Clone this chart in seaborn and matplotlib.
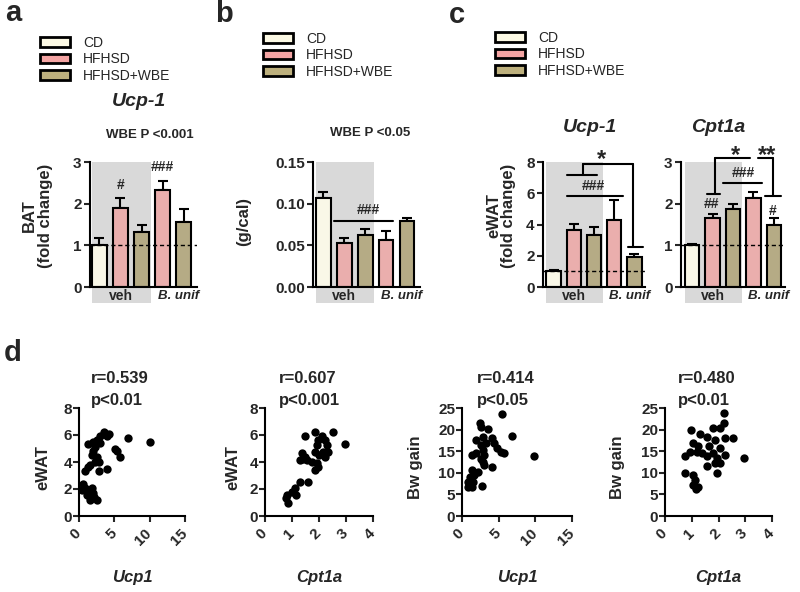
import numpy as np
import pandas as pd
import matplotlib
matplotlib.use('Agg')
import matplotlib.pyplot as plt
import matplotlib.transforms as mtransforms
from matplotlib.patches import Patch, Rectangle
import seaborn as sns

# groups and bars (veh: 3 bars, B. unif: 2 bars)
groups = ['CD', 'HFHSD', 'HFHSD+WBE']
colors = ['#fcf9e4', '#f4a4a3', '#bdb07d']
bar_ids = ['CD veh', 'HFHSD veh', 'HFHSD+WBE veh', 'HFHSD B. unif', 'HFHSD+WBE B. unif']
bar_groups = ['CD', 'HFHSD', 'HFHSD+WBE', 'HFHSD', 'HFHSD+WBE']

# a: BAT Ucp-1
bat_ucp1 = [1.00, 1.90, 1.32, 2.34, 1.56]
bat_ucp1_sem = [0.18, 0.24, 0.18, 0.20, 0.32]
# b: g/cal
gcal = [0.1066, 0.0523, 0.0623, 0.0570, 0.0790]
gcal_sem = [0.008, 0.006, 0.007, 0.010, 0.004]
# c: eWAT Ucp-1 / Cpt1a
ewat_ucp1 = [1.00, 3.62, 3.35, 4.30, 1.92]
ewat_ucp1_sem = [0.10, 0.43, 0.49, 1.24, 0.21]
ewat_cpt1a = [1.00, 1.66, 1.87, 2.14, 1.50]
ewat_cpt1a_sem = [0.04, 0.10, 0.12, 0.14, 0.16]

# d: correlations
d1_ucp1 = [3.5, 4.2, 4.0, 3.0, 2.5, 2.0, 1.3, 7.0, 10.0, 5.1, 5.4, 5.8, 2.0, 1.8, 2.5, 2.3, 2.8,
           1.6, 4.0, 2.8, 0.9, 1.3, 0.6, 0.9, 1.3, 1.8, 0.4, 2.0, 1.6, 2.5, 2.1, 1.1, 3.0, 2.3]
d1_ewat = [6.25, 6.1, 5.9, 5.9, 5.6, 5.5, 5.3, 5.8, 5.5, 5.0, 4.8, 4.4, 4.8, 4.5, 4.4, 4.0, 4.0,
           3.8, 3.5, 3.3, 3.3, 3.65, 2.4, 2.05, 1.9, 2.05, 1.9, 1.7, 1.2, 1.2, 1.4, 1.55, 5.4, 5.1]
d2_cpt1a = [1.85, 2.53, 1.48, 2.1, 2.22, 1.98, 2.96, 1.91, 2.28, 1.85, 2.16, 2.22, 2.0, 1.48, 1.36, 1.42,
            1.54, 1.73, 1.91, 1.85, 1.98, 1.3, 1.6, 1.3, 1.11, 0.99, 0.8, 1.15, 0.86, 0.77, 2.35]
d2_ewat = [6.25, 6.25, 5.9, 5.9, 5.6, 5.6, 5.35, 5.25, 5.25, 4.75, 4.75, 4.4, 4.5, 4.4, 4.65, 4.25,
           4.15, 4.0, 3.9, 3.4, 3.65, 4.15, 2.55, 2.55, 2.05, 1.8, 1.55, 1.55, 1.0, 1.3, 4.75]
d3_ucp1 = [5.5, 2.4, 2.65, 3.6, 6.8, 1.95, 2.8, 4.05, 3.3, 4.4, 2.65, 4.8, 5.3, 5.7, 9.8, 2.8, 1.95,
           1.4, 3.05, 2.65, 2.8, 3.05, 4.15, 1.3, 2.15, 1.7, 1.05, 0.85, 1.05, 2.75, 0.85, 1.3, 1.5]
d3_bw = [23.6, 21.5, 20.7, 20.1, 18.5, 17.6, 18.4, 18.0, 16.8, 16.8, 16.4, 15.7, 14.9, 14.5, 14.0, 15.3, 14.5,
         14.1, 14.1, 13.3, 12.6, 11.8, 11.4, 10.6, 10.3, 9.5, 9.1, 7.9, 7.2, 6.9, 6.6, 6.8, 7.9]
d4_cpt1a = [2.19, 2.19, 0.96, 1.81, 2.06, 1.31, 1.56, 2.56, 2.25, 1.88, 1.06, 1.25, 1.63, 2.06, 0.94, 1.19, 1.38,
            1.81, 2.25, 2.94, 0.75, 1.56, 1.94, 2.06, 1.56, 1.94, 0.75, 1.06, 1.13, 1.06, 1.25, 1.16, 1.88]
d4_bw = [23.8, 21.5, 19.8, 20.4, 20.4, 18.9, 18.4, 18.0, 18.0, 17.6, 16.9, 16.1, 16.1, 15.7, 14.9, 14.9, 14.6,
         14.6, 14.2, 13.4, 13.9, 13.8, 13.4, 12.2, 11.5, 9.9, 9.9, 9.5, 8.4, 7.2, 6.6, 6.2, 12.2]

sns.set_style('ticks')
plt.rcParams['font.family'] = ['Liberation Sans', 'DejaVu Sans']
plt.rcParams['font.weight'] = 'bold'
plt.rcParams['axes.linewidth'] = 1.5
plt.rcParams['axes.edgecolor'] = 'black'

W, H = 800, 592
fig = plt.figure(figsize=(W / 100, H / 100), dpi=100)


def box(l, t, r, b):
    return [l / W, 1 - b / H, (r - l) / W, (b - t) / H]


def ftext(x, y, s, **kw):
    fig.text(x / W, 1 - y / H, s, ha='center', va='center', **kw)


def bar_panel(l, r, xlim, values, sem, ylim, yticks, fmt='{:g}', ref=True):
    ax = fig.add_axes(box(l, 162, r, 287))
    df = pd.DataFrame({'bar': bar_ids, 'group': bar_groups, 'value': values})
    sns.barplot(data=df, x='bar', y='value', hue='group', hue_order=groups, palette=colors,
                dodge=False, width=0.7, edgecolor='black', linewidth=1.5, legend=False,
                ax=ax, zorder=2)
    ax.errorbar(np.arange(5), values, yerr=[np.zeros(5), sem], fmt='none', ecolor='black',
                elinewidth=1.5, capsize=3.5, capthick=1.5, zorder=1.5)
    trans = mtransforms.blended_transform_factory(ax.transData, ax.transAxes)
    ax.add_patch(Rectangle((-0.36, -0.13), 2.8, 1.13, transform=trans, facecolor='#d9d9d9',
                           edgecolor='none', zorder=0, clip_on=False))
    ax.text(1.0, -0.075, 'veh', transform=trans, ha='center', va='center', fontsize=10)
    ax.text(3.75, -0.075, 'B. unif', transform=trans, ha='center', va='center', fontsize=9.5,
            style='italic')
    if ref:
        ax.axhline(1, color='black', lw=1, ls=(0, (3, 2)), zorder=4)
    ax.set_xlim(*xlim)
    ax.set_ylim(*ylim)
    ax.set_yticks(yticks)
    ax.set_yticklabels([fmt.format(v) for v in yticks])
    ax.set_xticks([])
    ax.set_xlabel('')
    ax.set_ylabel('')
    sns.despine(ax=ax)
    ax.tick_params(axis='y', length=4, width=1.5, labelsize=11, pad=2)
    return ax


def lines(ax, segs):
    for xs, ys in segs:
        ax.plot(xs, ys, color='black', lw=1.5, clip_on=False, zorder=5)


# legends
for lx, ly in [(40, 36), (263, 32), (495, 31)]:
    handles = [Patch(facecolor=c, edgecolor='black', linewidth=2) for c in colors]
    fig.legend(handles, groups, loc='upper left', bbox_to_anchor=(lx / W, 1 - ly / H),
               frameon=False, borderpad=0, borderaxespad=0, handlelength=2.16,
               handleheight=0.72, handletextpad=0.93, labelspacing=0.17,
               prop={'size': 10, 'weight': 'normal'})

# panel letters
for x, y, s in [(13, 13, 'a'), (224, 14, 'b'), (457, 15, 'c'), (13, 353, 'd')]:
    ftext(x, y, s, fontsize=21)

# a
ax = bar_panel(90, 197, (-0.45, 4.64), bat_ucp1, bat_ucp1_sem, (0, 3), [0, 1, 2, 3])
ax.text(1, 2.44, '#', ha='center', va='center', fontsize=10)
ax.text(3, 2.88, '###', ha='center', va='center', fontsize=10)
ax.text(-0.49, 0.57, 'BAT\n(fold change)', transform=ax.transAxes, rotation=90, ha='center',
        va='center', fontsize=12, linespacing=1.05)
ftext(139, 101, 'Ucp-1', fontsize=14, style='italic')
ftext(150, 135, 'WBE P <0.001', fontsize=9.5)

# b
ax = bar_panel(313, 420, (-0.5, 4.62), gcal, gcal_sem, (0, 0.15), [0, 0.05, 0.10, 0.15],
               fmt='{:.2f}', ref=False)
lines(ax, [([0.5, 3.32], [0.0796, 0.0796])])
ax.text(2.13, 0.092, '###', ha='center', va='center', fontsize=10)
ax.text(-0.65, 0.52, '(g/cal)', transform=ax.transAxes, rotation=90, ha='center', va='center',
        fontsize=12)
ftext(370, 133, 'WBE P <0.05', fontsize=9.5)

# c Ucp-1
ax = bar_panel(543, 645, (-0.52, 4.52), ewat_ucp1, ewat_ucp1_sem, (0, 8), [0, 2, 4, 6, 8])
lines(ax, [([0.67, 2.15], [7.15, 7.15]), ([1.46, 1.46], [7.15, 7.9]), ([1.46, 3.93], [7.9, 7.9]),
           ([3.93, 3.93], [7.9, 2.56]), ([3.7, 4.4], [2.56, 2.56]), ([0.67, 3.45], [5.82, 5.82])])
ax.text(2.38, 7.75, '*', ha='center', va='baseline', fontsize=17)
ax.text(1.95, 6.46, '###', ha='center', va='center', fontsize=10)
ax.text(-0.41, 0.57, 'eWAT\n(fold change)', transform=ax.transAxes, rotation=90, ha='center',
        va='center', fontsize=12, linespacing=1.0)
ftext(590, 128, 'Ucp-1', fontsize=14, style='italic')

# c Cpt1a
ax = bar_panel(681, 785, (-0.54, 4.54), ewat_cpt1a, ewat_cpt1a_sem, (0, 3), [0, 1, 2, 3])
lines(ax, [([0.72, 1.37], [2.23, 2.23]), ([1.12, 1.12], [2.23, 3.1]), ([1.12, 2.83], [3.1, 3.1]),
           ([3.22, 3.95], [3.1, 3.1]), ([3.95, 3.95], [3.1, 2.18]), ([3.56, 4.33], [2.18, 2.18]),
           ([1.52, 3.4], [2.5, 2.5])])
ax.text(2.1, 3.0, '*', ha='center', va='baseline', fontsize=17)
ax.text(3.64, 3.0, '**', ha='center', va='baseline', fontsize=17)
ax.text(2.5, 2.74, '###', ha='center', va='center', fontsize=10)
ax.text(0.96, 1.98, '##', ha='center', va='center', fontsize=10)
ax.text(3.95, 1.83, '#', ha='center', va='center', fontsize=10)
ftext(718, 128, 'Cpt1a', fontsize=14, style='italic')


def scatter_panel(l, r, x, y, xmax, xticks, ymax, yticks, xlabel, ylabel, ylab_x, r_txt, p_txt, txt_x):
    ax = fig.add_axes(box(l, 408, r, 516))
    sns.scatterplot(x=x, y=y, color='black', s=36, linewidth=0, ax=ax, clip_on=False, zorder=3)
    ax.set_xlim(0, xmax)
    ax.set_ylim(0, ymax)
    ax.set_xticks(xticks)
    ax.set_yticks(yticks)
    sns.despine(ax=ax)
    ax.tick_params(length=4, width=1.5, labelsize=11)
    ax.tick_params(axis='x', pad=7)
    ax.tick_params(axis='y', pad=1)
    plt.setp(ax.get_xticklabels(), rotation=45, ha='right', va='center', rotation_mode='anchor')
    ax.text(0.5, -0.574, xlabel, transform=ax.transAxes, ha='center', va='center', fontsize=12,
            style='italic')
    ax.text(ylab_x, 0.45, ylabel, transform=ax.transAxes, rotation=90, ha='center', va='center',
            fontsize=12)
    ax.text(txt_x, 1.27, r_txt, transform=ax.transAxes, ha='left', va='center', fontsize=12)
    ax.text(txt_x, 1.07, p_txt, transform=ax.transAxes, ha='left', va='center', fontsize=12)
    return ax


scatter_panel(79, 185, d1_ucp1, d1_ewat, 15, [0, 5, 10, 15], 8, [0, 2, 4, 6, 8],
              'Ucp1', 'eWAT', -0.34, 'r=0.539', 'p<0.01', 0.113)
scatter_panel(265, 373, d2_cpt1a, d2_ewat, 4, [0, 1, 2, 3, 4], 8, [0, 2, 4, 6, 8],
              'Cpt1a', 'eWAT', -0.296, 'r=0.607', 'p<0.001', 0.13)
scatter_panel(462, 572, d3_ucp1, d3_bw, 15, [0, 5, 10, 15], 25, [0, 5, 10, 15, 20, 25],
              'Ucp1', 'Bw gain', -0.427, 'r=0.414', 'p<0.05', 0.136)
scatter_panel(665, 772, d4_cpt1a, d4_bw, 4, [0, 1, 2, 3, 4], 25, [0, 5, 10, 15, 20, 25],
              'Cpt1a', 'Bw gain', -0.44, 'r=0.480', 'p<0.01', 0.12)

fig.savefig('out.png', dpi=100)
